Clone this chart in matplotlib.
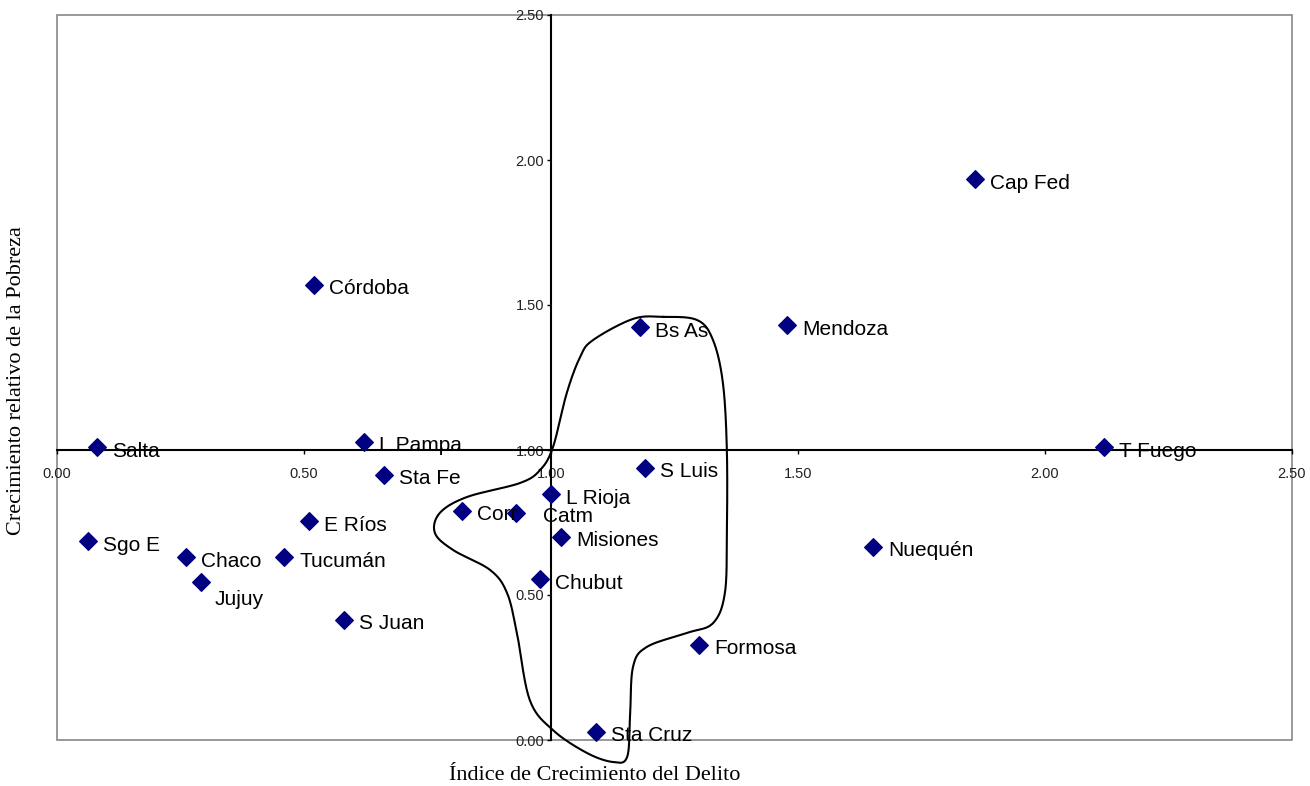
import numpy as np
import matplotlib.pyplot as plt
from matplotlib.patches import Rectangle

# provincias: indice de crecimiento del delito vs crecimiento relativo de la pobreza
provincias = ['Salta', 'Sgo E', 'Chaco', 'Jujuy', 'Tucumán', 'S Juan', 'E Ríos',
              'Córdoba', 'L Pampa', 'Sta Fe', 'Corr', 'Catm', 'L Rioja', 'Misiones',
              'Chubut', 'Sta Cruz', 'S Luis', 'Bs As', 'Formosa', 'Mendoza',
              'Nuequén', 'Cap Fed', 'T Fuego']
delito = [0.081, 0.063, 0.261, 0.291, 0.460, 0.581, 0.510,
          0.520, 0.621, 0.662, 0.820, 0.929, 1.000, 1.020,
          0.978, 1.091, 1.190, 1.180, 1.300, 1.478,
          1.652, 1.858, 2.119]
pobreza = [1.010, 0.686, 0.631, 0.545, 0.631, 0.414, 0.755,
           1.569, 1.028, 0.914, 0.790, 0.783, 0.848, 0.700,
           0.555, 0.028, 0.938, 1.424, 0.328, 1.431,
           0.666, 1.934, 1.010]

ticks = [0.0, 0.5, 1.0, 1.5, 2.0, 2.5]

# contorno dibujado a mano alrededor del grupo central
contorno_x = [1.227, 1.166, 1.085, 1.059, 1.032, 1.004, 0.978, 0.937, 0.830, 0.775,
              0.765, 0.802, 0.877, 0.911, 0.931, 0.957, 1.004, 1.073, 1.126, 1.154,
              1.160, 1.166, 1.194, 1.275, 1.328, 1.352, 1.356, 1.356, 1.348, 1.328,
              1.296]
contorno_y = [1.459, 1.452, 1.379, 1.321, 1.197, 1.010, 0.931, 0.886, 0.838, 0.783,
              0.714, 0.655, 0.586, 0.507, 0.369, 0.138, 0.034, -0.045, -0.076, -0.059,
              0.079, 0.252, 0.321, 0.369, 0.403, 0.507, 0.714, 1.000, 1.231, 1.379,
              1.448]


def catmull_cerrado(xs, ys, n=20):
    p = np.column_stack([xs, ys])
    m = len(p)
    out = []
    t = np.linspace(0, 1, n, endpoint=False)[:, None]
    for i in range(m):
        p0, p1, p2, p3 = p[i - 1], p[i], p[(i + 1) % m], p[(i + 2) % m]
        seg = 0.5 * ((2 * p1) + (-p0 + p2) * t + (2 * p0 - 5 * p1 + 4 * p2 - p3) * t ** 2
                     + (-p0 + 3 * p1 - 3 * p2 + p3) * t ** 3)
        out.append(seg)
    out.append(p[:1])
    return np.vstack(out)


plt.rcParams['font.family'] = ['Liberation Sans', 'DejaVu Sans']

fig = plt.figure(figsize=(13.1, 7.86), dpi=100)
ax = fig.add_axes([57 / 1310, 1 - 740 / 786, (1292 - 57) / 1310, (740 - 15) / 786])
ax.set_xlim(0, 2.5)
ax.set_ylim(0, 2.5)

# ejes cruzando en (1, 1)
ax.spines['left'].set_position(('data', 1))
ax.spines['bottom'].set_position(('data', 1))
ax.spines['top'].set_visible(False)
ax.spines['right'].set_visible(False)
for s in ['left', 'bottom']:
    ax.spines[s].set_linewidth(1.5)
    ax.spines[s].set_color('black')
ax.add_patch(Rectangle((0, 0), 1, 1, transform=ax.transAxes, fill=False,
                       edgecolor='#888888', linewidth=1.2, clip_on=False, zorder=0))

ax.set_xticks(ticks)
ax.set_yticks(ticks)
ax.set_xticklabels([f'{t:.2f}' for t in ticks])
ax.set_yticklabels([f'{t:.2f}' for t in ticks])
ax.tick_params(axis='x', direction='out', length=3, width=1, pad=9.5, labelsize=10.5, labelcolor='#222222')
ax.tick_params(axis='y', direction='out', length=3, width=1, pad=2, labelsize=10.5, labelcolor='#222222')

ax.scatter(delito, pobreza, marker='D', s=80, color='#000080', zorder=3, clip_on=False)

offsets_especiales = {'Jujuy': (14, -18), 'Catm': (27, -4)}
for nombre, x, y in zip(provincias, delito, pobreza):
    dx, dy = offsets_especiales.get(nombre, (15, -4))
    ax.annotate(nombre, (x, y), xytext=(dx, dy), textcoords='offset pixels',
                ha='left', va='center', fontsize=15, color='black', zorder=4)

curva = catmull_cerrado(contorno_x, contorno_y)
ax.plot(curva[:, 0], curva[:, 1], color='black', linewidth=1.5, clip_on=False, zorder=2)

fig.text(595 / 1310, 1 - 775 / 786, 'Índice de Crecimiento del Delito', ha='center', va='center',
         fontsize=16, family=['Liberation Serif', 'DejaVu Serif'])
fig.text(17 / 1310, 1 - 381 / 786, 'Crecimiento relativo de la Pobreza', ha='center', va='center',
         rotation=90, fontsize=16, family=['Liberation Serif', 'DejaVu Serif'])

fig.savefig('out.png', dpi=100)
